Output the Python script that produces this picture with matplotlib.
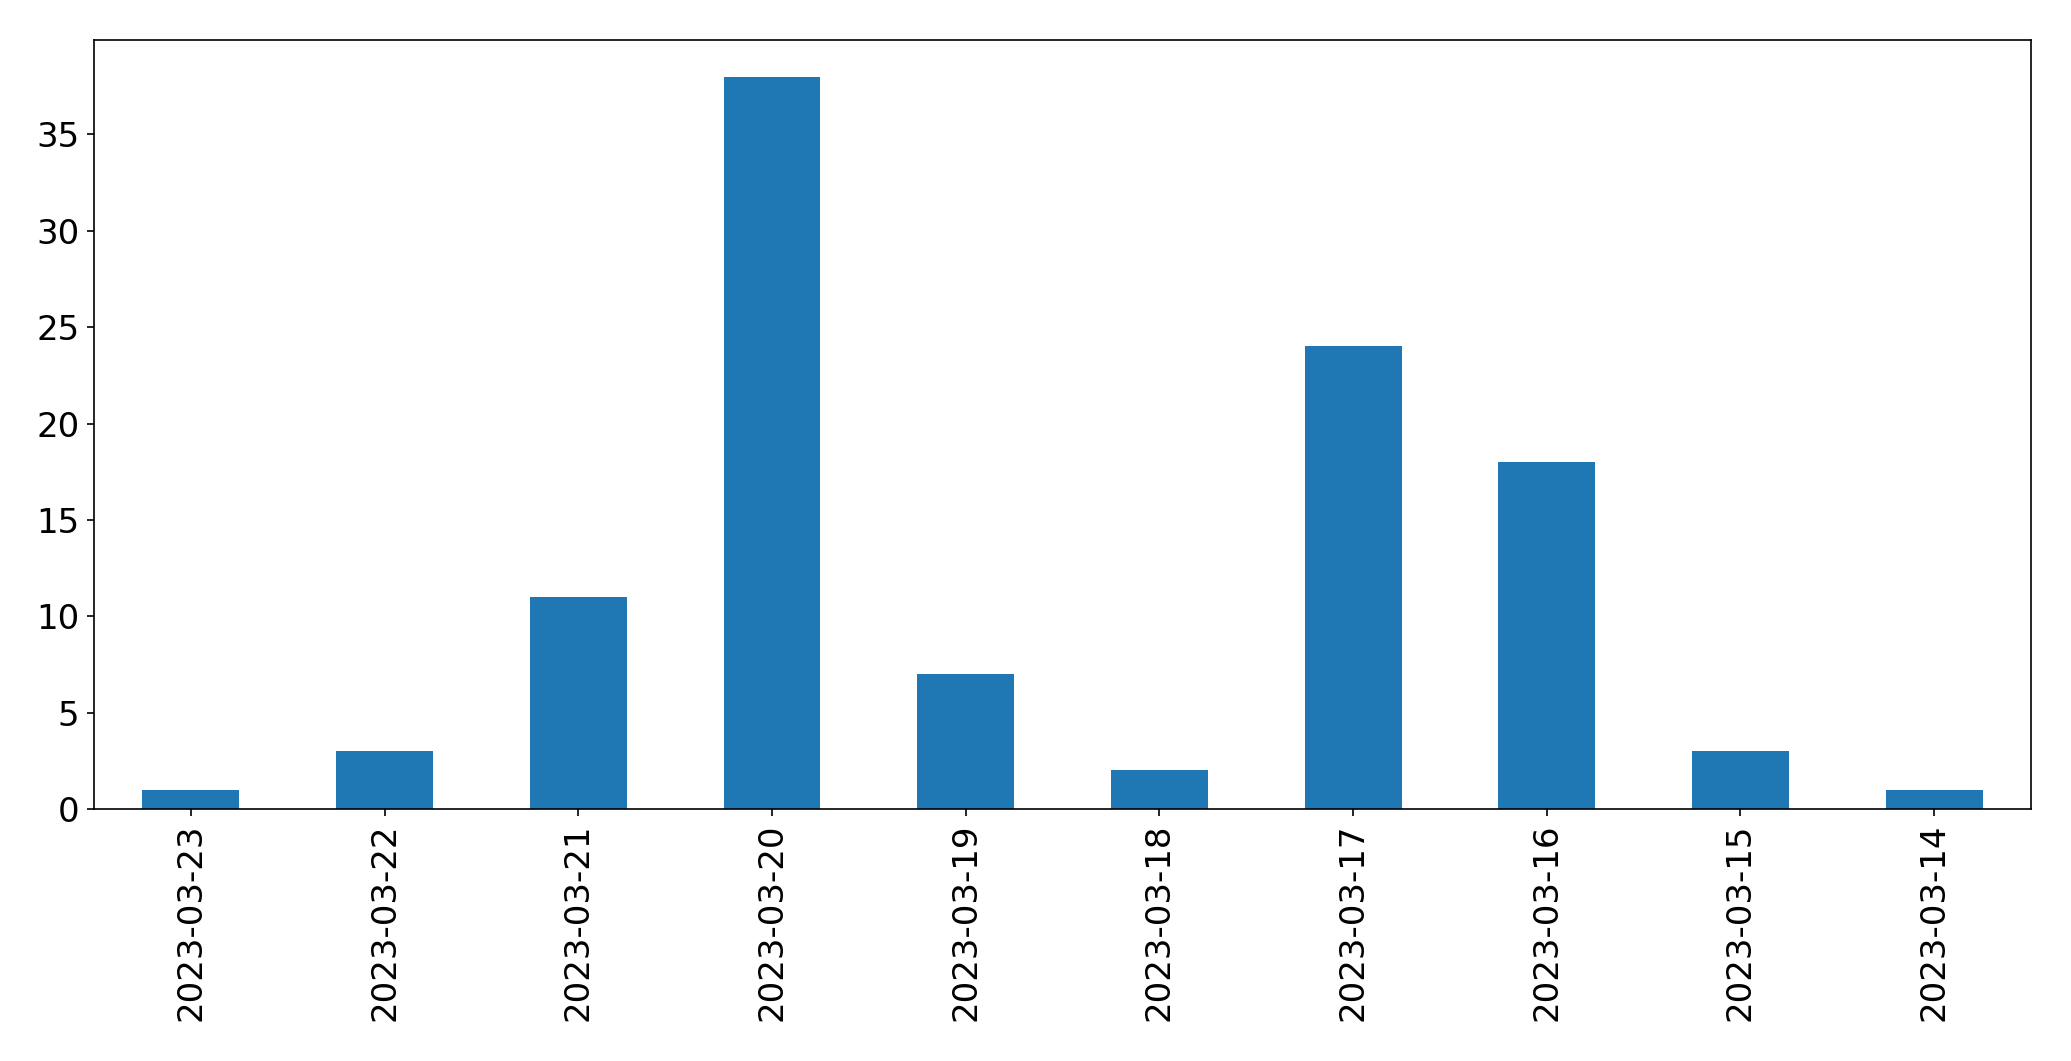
import numpy as np
import matplotlib
matplotlib.use("Agg")
import matplotlib.pyplot as plt

dates = ["2023-03-23", "2023-03-22", "2023-03-21", "2023-03-20", "2023-03-19",
         "2023-03-18", "2023-03-17", "2023-03-16", "2023-03-15", "2023-03-14"]
counts = [1, 3, 11, 38, 7, 2, 24, 18, 3, 1]

fig = plt.figure(figsize=(2071 / 150, 1061 / 150), dpi=150)
ax = fig.add_axes([0.0454, 0.2375, 0.9353, 0.7248])

x = np.arange(len(dates))
ax.bar(x, counts, width=0.5, color="#1f77b4")
ax.set_xlim(-0.5, len(dates) - 0.5)
ax.set_xticks(x)
ax.set_xticklabels(dates, rotation=90)
ax.tick_params(labelsize=16.3)

fig.savefig("out.png", dpi=150)
